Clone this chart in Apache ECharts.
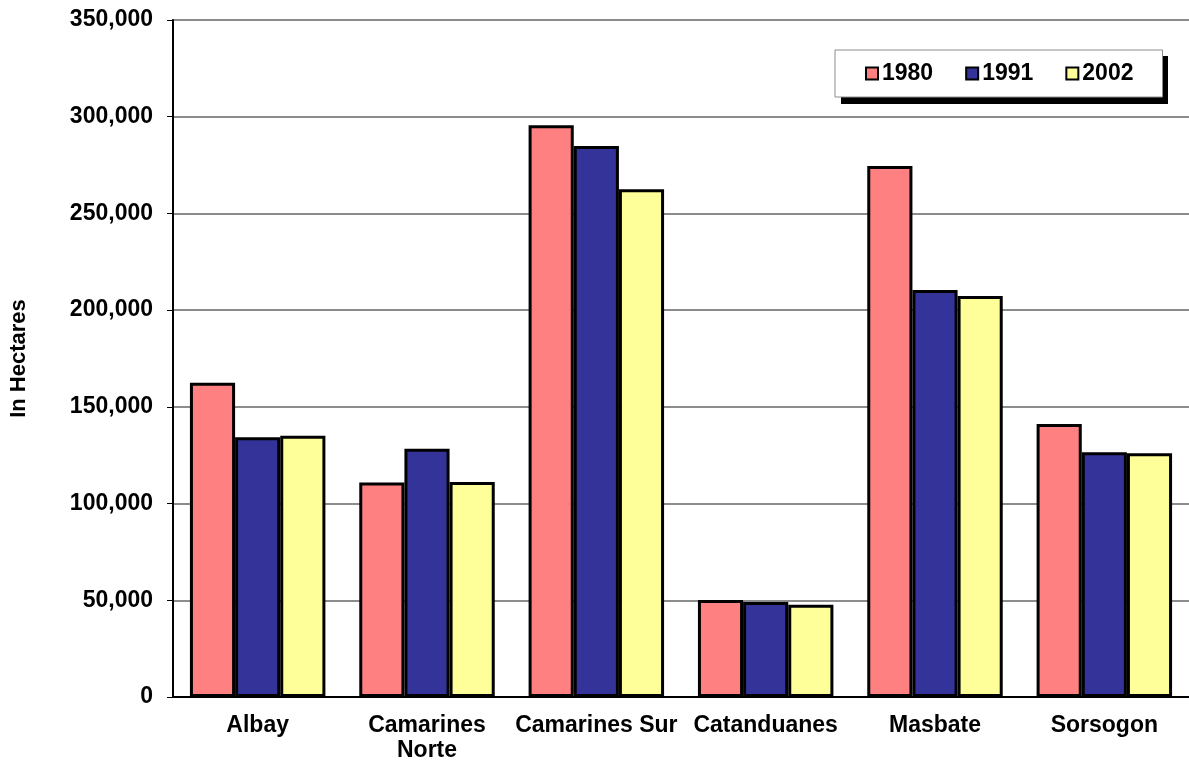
<!DOCTYPE html>
<html>
<head>
<meta charset="utf-8">
<script src="https://cdn.jsdelivr.net/npm/echarts@6/dist/echarts.min.js"></script>
<style>
html,body{margin:0;padding:0;background:#fff;}
#chart{width:1189px;height:763px;}
</style>
</head>
<body>
<div id="chart"></div>
<script>
const categories = ['Albay', 'Camarines\nNorte', 'Camarines Sur', 'Catanduanes', 'Masbate', 'Sorsogon'];
const seriesNames = ['1980', '1991', '2002'];
const values1980 = [162400, 110900, 295600, 50200, 274500, 141200];
const values1991 = [134300, 128400, 284900, 49100, 210400, 126500];
const values2002 = [135000, 111200, 262500, 47700, 207300, 126000];
const yTicks = { min: 0, max: 350000, interval: 50000 };

const colors = ['#FF8080', '#333399', '#FFFF99'];
const allValues = [values1980, values1991, values2002];
const FONT = '"Liberation Sans", Arial, sans-serif';

const chart = echarts.init(document.getElementById('chart'), null, { renderer: 'canvas' });
chart.setOption({
  backgroundColor: '#ffffff',
  animation: false,
  grid: { left: 172, top: 20, width: 1028, height: 677, containLabel: false },
  graphic: [{
    type: 'rect', z: 1, left: 841, top: 56,
    shape: { width: 327, height: 48 },
    style: { fill: '#000' }
  }],
  legend: {
    z: 5,
    left: 835, top: 50,
    orient: 'horizontal',
    padding: [12, 29, 12, 30],
    itemGap: 32,
    itemWidth: 12, itemHeight: 12,
    icon: 'rect',
    backgroundColor: '#ffffff',
    borderColor: '#8c8c8c', borderWidth: 1,
    itemStyle: { borderColor: '#000', borderWidth: 2 },
    textStyle: { fontFamily: FONT, fontWeight: 'bold', fontSize: 23, color: '#000', padding: [0, 0, 0, -1] },
    data: seriesNames
  },
  xAxis: {
    type: 'category',
    data: categories,
    axisLine: { lineStyle: { color: '#000', width: 2 } },
    axisTick: { inside: true, length: 5, lineStyle: { color: '#555', width: 1 } },
    axisLabel: { fontFamily: FONT, fontWeight: 'bold', fontSize: 23, color: '#000', margin: 16, lineHeight: 25, interval: 0 },
    splitLine: { show: false }
  },
  yAxis: {
    type: 'value',
    min: yTicks.min, max: yTicks.max, interval: yTicks.interval,
    name: 'In Hectares',
    nameLocation: 'middle',
    nameGap: 143,
    nameTextStyle: { fontFamily: FONT, fontWeight: 'bold', fontSize: 22, color: '#000' },
    axisLine: { show: true, lineStyle: { color: '#000', width: 2 } },
    axisTick: { show: true, inside: false, length: 6, lineStyle: { color: '#000', width: 1 } },
    axisLabel: {
      fontFamily: FONT, fontWeight: 'bold', fontSize: 23, color: '#000', margin: 20,
      formatter: v => v.toLocaleString('en-US')
    },
    splitLine: { show: true, lineStyle: { color: '#666', width: 1.5 } }
  },
  series: seriesNames.map((name, i) => ({
    name: name,
    type: 'bar',
    data: allValues[i],
    barGap: '0%',
    barCategoryGap: '20%',
    itemStyle: { color: colors[i], borderColor: '#000', borderWidth: 3 },
    emphasis: { disabled: true }
  }))
});
</script>
</body>
</html>
